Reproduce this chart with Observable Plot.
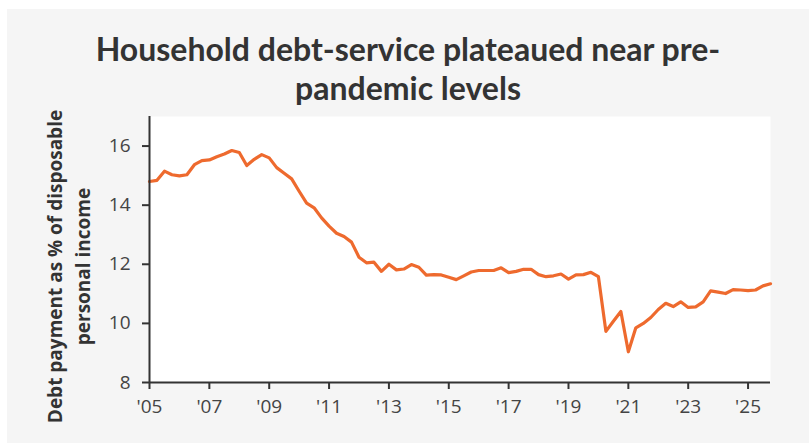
<!DOCTYPE html>
<html><head><meta charset="utf-8">
<script src="https://cdn.jsdelivr.net/npm/d3@7"></script>
<script src="https://cdn.jsdelivr.net/npm/@observablehq/plot@0.6"></script>
<style>
html,body{margin:0;padding:0;background:#fff;}
#card{position:absolute;left:7px;top:9px;width:802px;height:434px;background:#f5f5f5;overflow:hidden;}
#title{position:absolute;left:0;top:20px;width:802px;text-align:center;font-family:Lato,"Open Sans",sans-serif;font-weight:700;font-size:32px;line-height:39px;color:#333;}
#chart{position:absolute;left:0;top:91px;}
#chart svg{overflow:visible;}
</style></head><body>
<div id="card">
<div id="title">Household debt-service plateaued near pre-<br>pandemic levels</div>
<div id="chart"></div>
</div>
<script>
// Quarterly series, first quarter of 2005 onward
const startYear = 2005;
const debtService = [
  14.80, 14.84, 15.15, 15.03, 14.99, 15.03, 15.37, 15.51,
  15.53, 15.64, 15.73, 15.85, 15.78, 15.34, 15.55, 15.71,
  15.60, 15.27, 15.08, 14.89, 14.47, 14.07, 13.91, 13.57,
  13.29, 13.05, 12.94, 12.75, 12.24, 12.05, 12.07, 11.76,
  12.00, 11.81, 11.84, 11.99, 11.90, 11.63, 11.65, 11.64,
  11.56, 11.48, 11.61, 11.74, 11.79, 11.79, 11.79, 11.88,
  11.72, 11.76, 11.83, 11.83, 11.65, 11.58, 11.61, 11.67,
  11.50, 11.64, 11.65, 11.73, 11.58, 9.73, 10.07, 10.40,
  9.04, 9.85, 10.00, 10.20, 10.47, 10.68, 10.57, 10.73,
  10.54, 10.56, 10.73, 11.10, 11.06, 11.01, 11.14, 11.13,
  11.11, 11.13, 11.27, 11.34
];
const xTicks = [2005, 2007, 2009, 2011, 2013, 2015, 2017, 2019, 2021, 2023, 2025];
const xTickLabels = ["'05", "'07", "'09", "'11", "'13", "'15", "'17", "'19", "'21", "'23", "'25"];
const yTicks = [8, 10, 12, 14, 16];
const yLabelLines = ["Debt payment as % of disposable", "personal income"];

const data = debtService.map((v, i) => ({date: startYear + i / 4, value: v}));
const lastDate = data[data.length - 1].date;

const chart = Plot.plot({
  width: 802,
  height: 343,
  marginTop: 16,
  marginLeft: 142,
  marginRight: 39,
  marginBottom: 61,
  style: {fontFamily: "'Open Sans', sans-serif", fontSize: "19px", color: "#444", background: "transparent"},
  x: {domain: [startYear, lastDate]},
  y: {domain: [8, 17]},
  marks: [
    Plot.frame({fill: "white", stroke: "none"}),
    Plot.line(data, {x: "date", y: "value", stroke: "#ee6a2e", strokeWidth: 3.2, curve: "linear"}),
    Plot.ruleX([startYear], {stroke: "#333", strokeWidth: 2}),
    Plot.ruleY([8], {stroke: "#333", strokeWidth: 2}),
    Plot.axisX({ticks: xTicks, tickFormat: (d) => xTickLabels[xTicks.indexOf(d)], tickSize: 7, tickPadding: 10, stroke: "#333", strokeWidth: 2, label: null, fontSize: 19, fill: "#444"}),
    Plot.axisY({ticks: yTicks, tickSize: 7, tickPadding: 12, stroke: "#333", strokeWidth: 2, label: null, fontSize: 19, fill: "#444"}),
    Plot.text([yLabelLines[0]], {text: (d) => d, frameAnchor: "left", rotate: -90, dx: -94, dy: 17, textAnchor: "middle", lineAnchor: "middle", fontWeight: 700, fontSize: 19, fill: "#333"}),
    Plot.text([yLabelLines[1]], {text: (d) => d, frameAnchor: "left", rotate: -90, dx: -66, dy: 17, textAnchor: "middle", lineAnchor: "middle", fontWeight: 700, fontSize: 19, fill: "#333"})
  ]
});
document.getElementById("chart").appendChild(chart);
</script>
</body></html>
